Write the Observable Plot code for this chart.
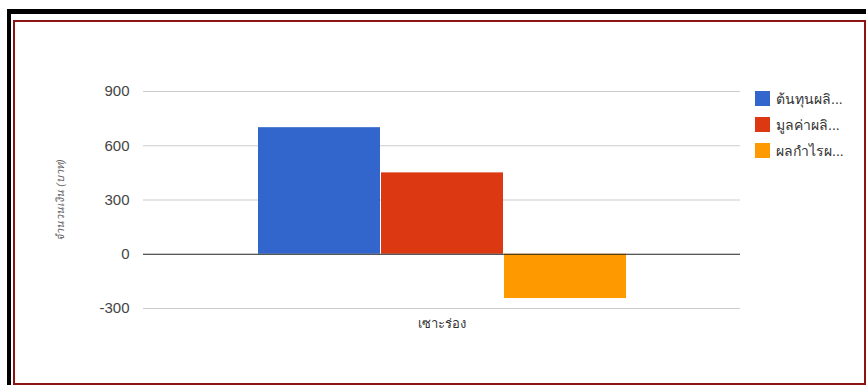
<!DOCTYPE html>
<html>
<head>
<meta charset="utf-8">
<script src="https://cdn.jsdelivr.net/npm/d3@7"></script>
<script src="https://cdn.jsdelivr.net/npm/@observablehq/plot@0.6"></script>
<style>
  html, body { margin: 0; padding: 0; background: #fff; width: 866px; height: 385px; overflow: hidden; }
  #page { position: relative; width: 866px; height: 385px; }
  #outer { position: absolute; left: 7px; top: 9px; width: 870px; height: 390px; border-left: 4px solid #000; border-top: 5px solid #000; box-sizing: border-box; }
  #inner { position: absolute; left: 13px; top: 20px; width: 853px; height: 365px; border: 2px solid #8e1414; box-sizing: border-box; background: #fff; }
  #chart { position: absolute; left: 0; top: 0; }
  #legend { position: absolute; left: 755px; top: 91px; font-family: Arial, "Liberation Sans", sans-serif; font-size: 14px; color: #333; }
  .item { display: flex; align-items: center; height: 15px; margin-bottom: 11px; }
  .sw { width: 15px; height: 15px; margin-right: 6px; }
</style>
</head>
<body>
<div id="page">
  <div id="outer"></div>
  <div id="inner"></div>
  <div id="chart"></div>
  <div id="legend"></div>
</div>
<script>
const categories = ["เซาะร่อง"];
const series = ["ต้นทุนผลิ...", "มูลค่าผลิ...", "ผลกำไรผ..."];
const values = [700, 450, -245];
const colors = ["#3366cc", "#dc3912", "#ff9900"];
const yTicks = [-300, 0, 300, 600, 900];
const yTitle = "จำนวนเงิน (บาท)";

const data = series.map((s, i) => ({category: categories[0], series: s, value: values[i]}));

const chart = Plot.plot({
  width: 866,
  height: 385,
  marginTop: 91,
  marginBottom: 77,
  marginLeft: 143,
  marginRight: 126,
  style: {background: "transparent", fontFamily: "Arial, 'Liberation Sans', sans-serif", fontSize: "15px", color: "#444"},
  x: {domain: series, range: [257.5, 625.5], paddingInner: 0.012, paddingOuter: 0, axis: null},
  y: {domain: [-300, 900], ticks: yTicks, label: null},
  color: {domain: series, range: colors},
  marks: [
    Plot.ruleY(yTicks.filter(d => d !== 0), {stroke: "#cccccc", strokeWidth: 1}),
    Plot.axisY({ticks: yTicks, tickSize: 0, tickPadding: 14, label: null, fill: "#444", fontSize: 15, tickFormat: d => String(d)}),
    Plot.barY(data, {x: "series", y: "value", fill: "series"}),
    Plot.ruleY([0], {stroke: "#222", strokeWidth: 1}),
    Plot.text(categories, {text: d => d, frameAnchor: "bottom", dy: 19, fill: "#333", fontSize: 13}),
    Plot.text([yTitle], {text: d => d, frameAnchor: "left", textAnchor: "middle", dx: -83, rotate: -90, fill: "#666", fontSize: 11, fontStyle: "italic"})
  ]
});
document.getElementById("chart").appendChild(chart);

const legend = document.getElementById("legend");
series.forEach((s, i) => {
  const item = document.createElement("div");
  item.className = "item";
  const sw = document.createElement("div");
  sw.className = "sw";
  sw.style.background = colors[i];
  const t = document.createElement("span");
  t.textContent = s;
  item.appendChild(sw);
  item.appendChild(t);
  legend.appendChild(item);
});
</script>
</body>
</html>
